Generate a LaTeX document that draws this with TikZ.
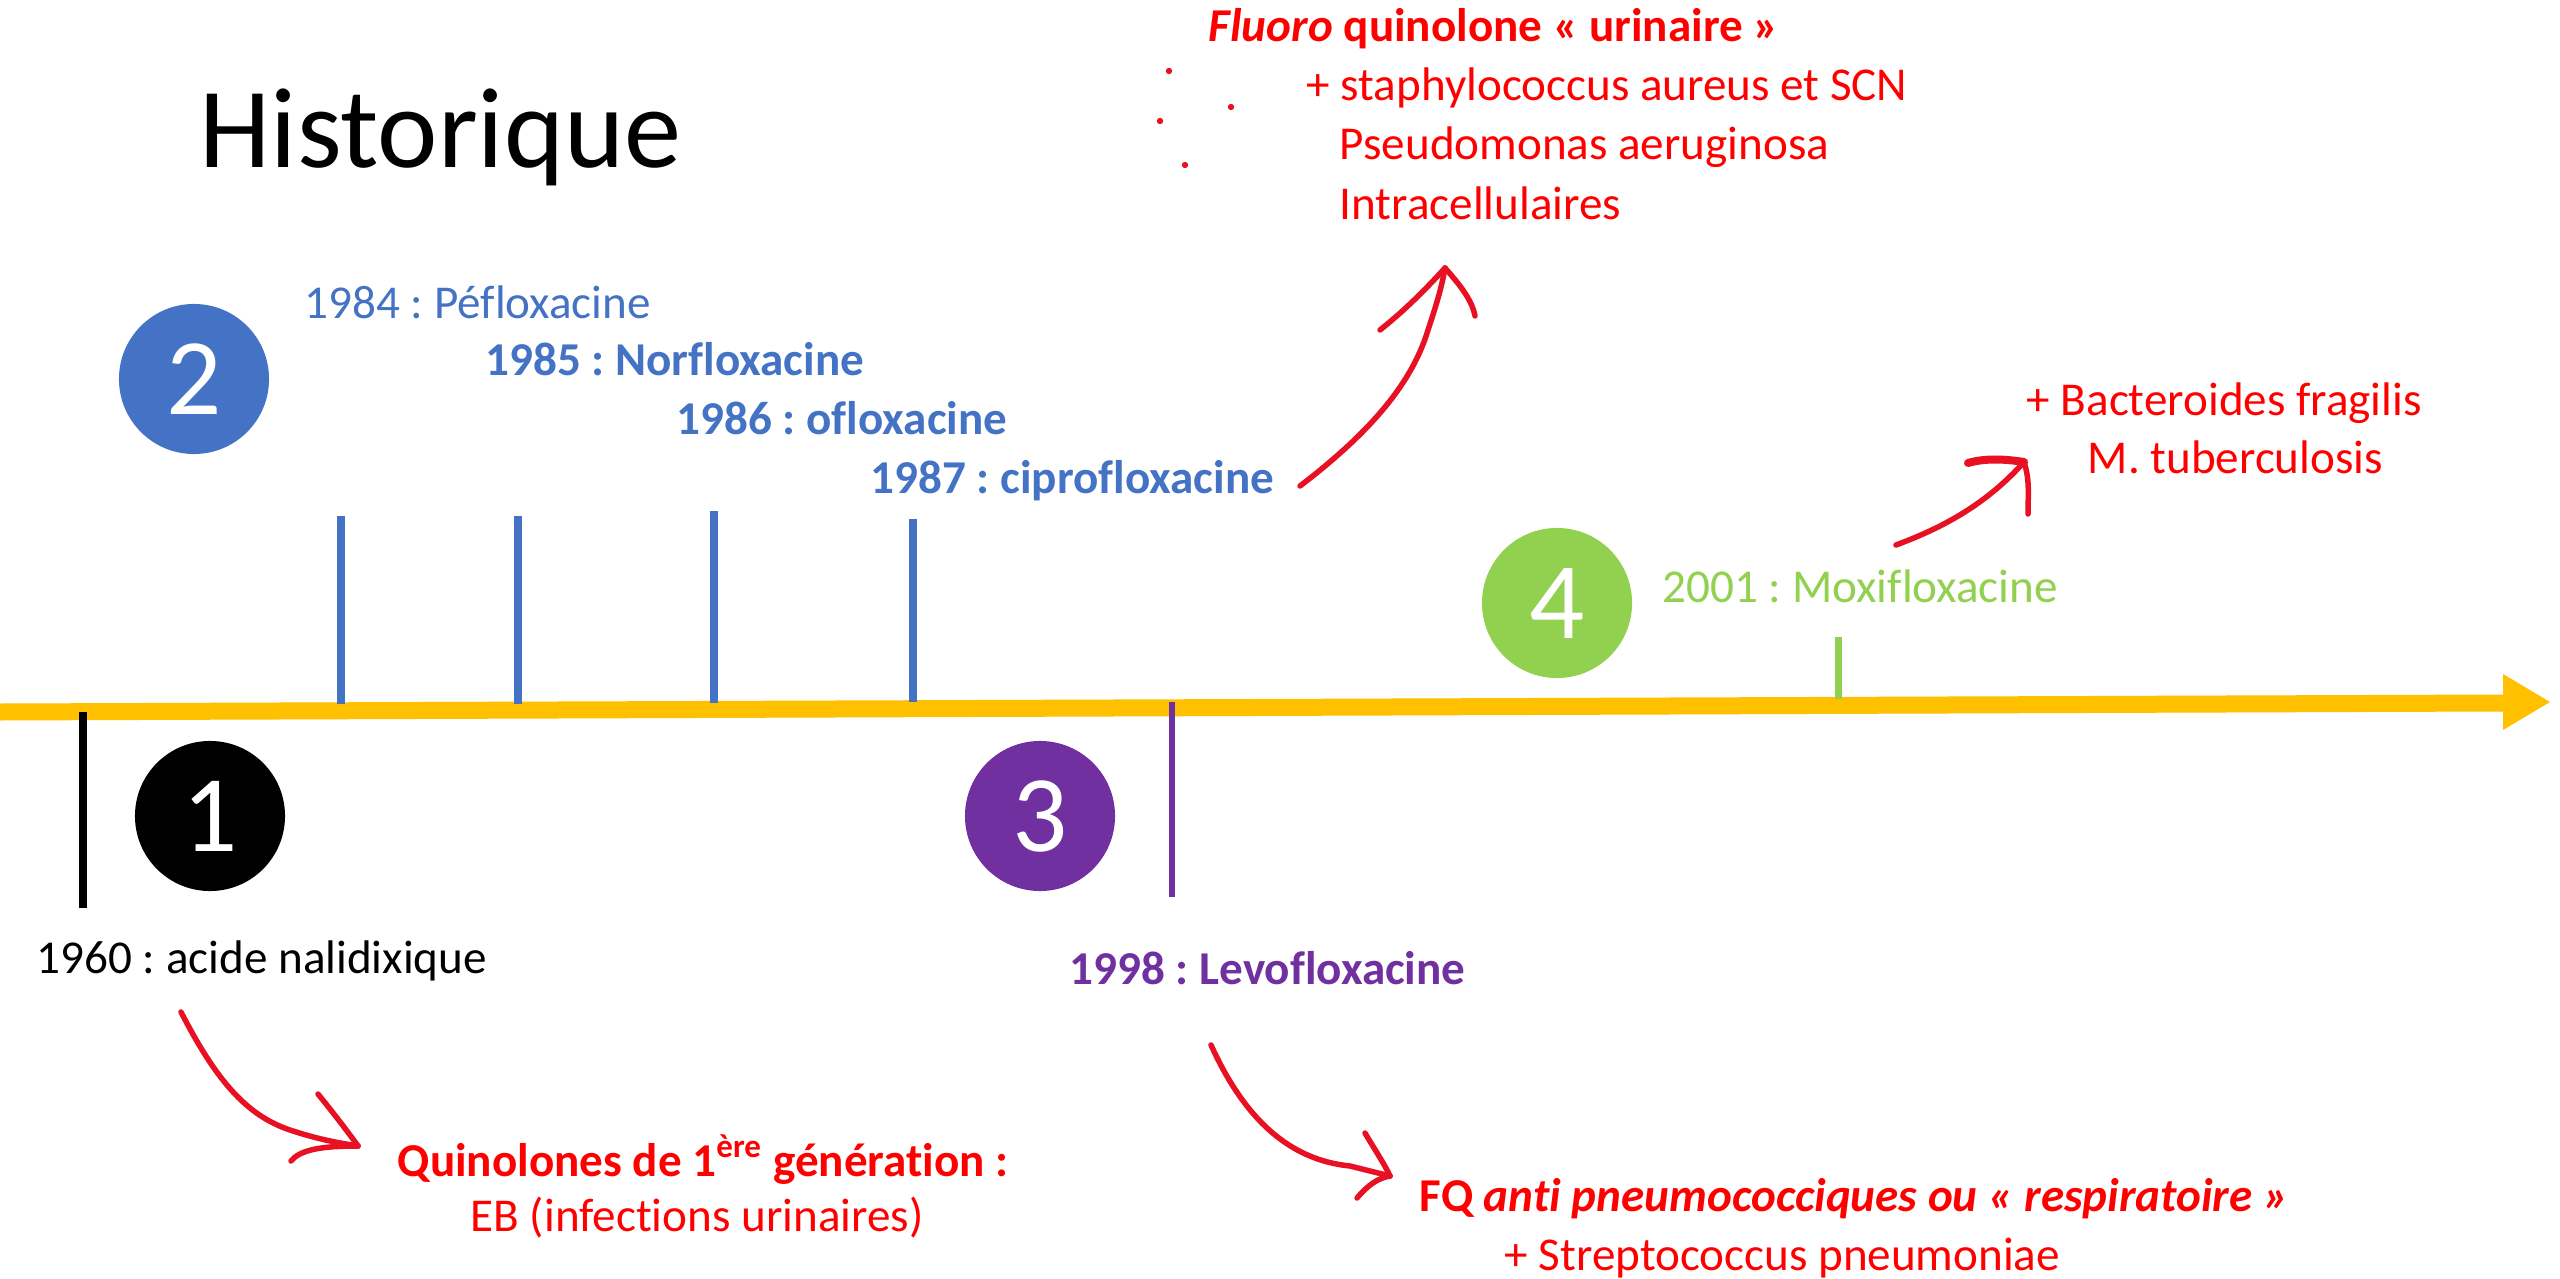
\documentclass[tikz,border=0pt]{standalone}
\usepackage{fontspec}
\setmainfont{Carlito}[Ligatures={NoCommon}]
\definecolor{tlblue}{HTML}{4472C4}
\definecolor{tlpurple}{HTML}{7030A0}
\definecolor{tlgreen}{HTML}{92D050}
\definecolor{tlyellow}{HTML}{FFC000}
\definecolor{txtred}{HTML}{FF0000}
\definecolor{ink}{HTML}{E81123}
\begin{document}
\frenchspacing
\begin{tikzpicture}[x=0.01cm,y=-0.01cm,
  lbl/.style={anchor=base west, inner sep=0pt, font=\fontsize{13.4}{16}\selectfont},
  badge/.style={circle, minimum size=1.5cm, inner sep=0pt, text=white, font=\fontsize{31}{36}\selectfont},
  tickline/.style={line width=0.08cm},
  inkline/.style={draw=ink, line width=0.055cm, line cap=round, line join=round}]
\useasboundingbox (0,0) rectangle (2560,1279);
\fill[white] (0,0) rectangle (2560,1279);

% title
\node[anchor=base west, inner sep=0pt, font=\fontsize{32.5}{38}\selectfont] (title) at (199,168) {Historique};

% timeline arrow
\fill[tlyellow] (0,703.5) -- (2503,694.5) -- (2503,674) -- (2550,702) -- (2503,730) -- (2503,711.5) -- (0,720.5) -- cycle;

% ticks
\draw[tickline, tlblue] (341,704) -- (341,516);
\draw[tickline, tlblue] (518,704) -- (518,516);
\draw[tickline, tlblue] (714,703) -- (714,511);
\draw[tickline, tlblue] (913,702) -- (913,519);
\draw[tickline, black] (83,712) -- (83,908);
\draw[line width=0.06cm, tlpurple] (1172,702) -- (1172,897);
\draw[line width=0.07cm, tlgreen] (1838,699) -- (1838,637);

% badges
\node[badge, fill=tlblue] (b2) at (194,379) {2};
\node[badge, fill=black] (b1) at (210,816) {1};
\node[badge, fill=tlpurple] (b3) at (1040,816) {3};
\node[badge, fill=tlgreen] (b4) at (1557,603) {4};

% labels
\node[lbl, text=tlblue] (t1984) at (304,318) {1984 : Péfloxacine};
\node[lbl, text=tlblue, font=\fontsize{13.4}{16}\selectfont\bfseries] (t1985) at (485,376) {1985 : Norfloxacine};
\node[lbl, text=tlblue, font=\fontsize{13.4}{16}\selectfont\bfseries] (t1986) at (676,434) {1986 : ofloxacine};
\node[lbl, text=tlblue, font=\fontsize{13.4}{16}\selectfont\bfseries] (t1987) at (870,493) {1987 : ciprofloxacine};
\node[lbl, text=tlgreen] (t2001) at (1662,602) {2001 : Moxifloxacine};
\node[lbl, text=black] (t1960) at (36,973) {1960 : acide nalidixique};
\node[lbl, text=tlpurple, font=\fontsize{13.4}{16}\selectfont\bfseries] (t1998) at (1069,984) {1998 : Levofloxacine};

\node[lbl, text=txtred, font=\fontsize{13.4}{16}\selectfont\bfseries] (q1) at (397,1176) {Quinolones de 1\textsuperscript{ère} génération :};
\node[lbl, text=txtred] (q1b) at (470,1231) {EB (infections urinaires)};
\node[lbl, text=txtred, font=\fontsize{13.4}{16}\selectfont\bfseries] (fq) at (1419,1211) {FQ \textit{anti pneumococciques ou « respiratoire »}};
\node[lbl, text=txtred] (fqb) at (1504,1270) {+ Streptococcus pneumoniae};
\node[lbl, text=txtred, font=\fontsize{13.4}{16}\selectfont\bfseries] (fu) at (1208,42) {\textit{Fluoro} quinolone « urinaire »};
\node[lbl, text=txtred] (fu1) at (1306,101) {+ staphylococcus aureus et SCN};
\node[lbl, text=txtred] (fu2) at (1339,160) {Pseudomonas aeruginosa};
\node[lbl, text=txtred] (fu3) at (1339,219) {Intracellulaires};
\node[lbl, text=txtred] (bf1) at (2026,416) {+ Bacteroides fragilis};
\node[lbl, text=txtred] (bf2) at (2087,473) {M. tuberculosis};

% stray ink dots
\fill[ink] (1169,71) circle (3.2);
\fill[ink] (1231,107) circle (3.2);
\fill[ink] (1160,121) circle (3.2);
\fill[ink] (1185,165) circle (3.2);

% hand-drawn arrow A
\coordinate (aAs) at (181,1012);
\coordinate (aAt) at (358,1146);
\coordinate (aAb1) at (318,1094);
\coordinate (aAb2) at (291,1161);
\draw[inkline] (aAs) .. controls (215,1078) and (245,1115) .. (290,1130) .. controls (320,1140) and (340,1143) .. (aAt);
\draw[inkline] (aAb1) .. controls (335,1115) and (348,1132) .. (aAt);
\draw[inkline] (aAb2) .. controls (300,1150) and (320,1146) .. (aAt);

% hand-drawn arrow B
\coordinate (aBs) at (1211,1045);
\coordinate (aBt) at (1390,1176);
\coordinate (aBb1) at (1365,1133);
\coordinate (aBb2) at (1357,1198);
\draw[inkline] (aBs) .. controls (1245,1120) and (1290,1160) .. (1350,1166) -- (aBt);
\draw[inkline] (aBb1) .. controls (1375,1150) and (1385,1165) .. (aBt);
\draw[inkline] (aBb2) .. controls (1368,1185) and (1378,1178) .. (aBt);

% hand-drawn arrow C
\coordinate (aCs) at (1300,486);
\coordinate (aCt) at (1445,268);
\coordinate (aCb1) at (1380,330);
\coordinate (aCb2) at (1475,316);
\draw[inkline] (aCs) .. controls (1360,440) and (1410,390) .. (1428,330) .. controls (1438,300) and (1442,285) .. (aCt);
\draw[inkline] (aCb1) .. controls (1405,310) and (1425,290) .. (aCt);
\draw[inkline] (aCt) .. controls (1460,285) and (1472,300) .. (aCb2);

% hand-drawn arrow D
\coordinate (aDs) at (1896,545);
\coordinate (aDt) at (2024,462);
\coordinate (aDb1) at (1968,463);
\coordinate (aDb2) at (2028,514);
\draw[inkline] (aDs) .. controls (1950,525) and (1990,500) .. (aDt);
\draw[inkline, line width=0.08cm] (aDb1) .. controls (1985,458) and (2005,459) .. (aDt);
\draw[inkline] (aDt) .. controls (2030,480) and (2028,495) .. (aDb2);
\end{tikzpicture}
\end{document}
